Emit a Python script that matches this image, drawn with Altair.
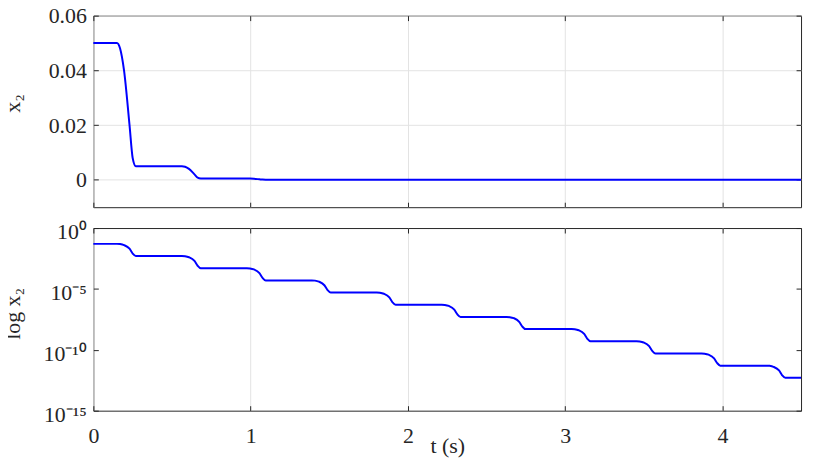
import altair as alt
import pandas as pd

# time (s) and x2 values
t_vals = [0.0, 0.15, 0.17, 0.195, 0.23, 0.25, 0.27,
          0.563, 0.583, 0.608, 0.643, 0.663, 0.683,
          0.976, 0.996, 1.021, 1.056, 1.076, 1.096,
          1.389, 1.409, 1.434, 1.469, 1.489, 1.509,
          1.802, 1.822, 1.847, 1.882, 1.902, 1.922,
          2.215, 2.235, 2.26, 2.295, 2.315, 2.335,
          2.628, 2.648, 2.673, 2.708, 2.728, 2.748,
          3.041, 3.061, 3.086, 3.121, 3.141, 3.161,
          3.454, 3.474, 3.499, 3.534, 3.554, 3.574,
          3.867, 3.887, 3.912, 3.947, 3.967, 3.987,
          4.28, 4.30, 4.325, 4.36, 4.38, 4.40,
          4.5]

x2_vals = [0.05, 0.05, 0.048, 0.04, 0.02, 0.008, 0.005,
           5e-3, 4.8e-3, 4e-3, 2e-3, 8e-4, 5e-4,
           5e-4, 4.8e-4, 4e-4, 2e-4, 8e-5, 5e-5,
           5e-5, 4.8e-5, 4e-5, 2e-5, 8e-6, 5e-6,
           5e-6, 4.8e-6, 4e-6, 2e-6, 8e-7, 5e-7,
           5e-7, 4.8e-7, 4e-7, 2e-7, 8e-8, 5e-8,
           5e-8, 4.8e-8, 4e-8, 2e-8, 8e-9, 5e-9,
           5e-9, 4.8e-9, 4e-9, 2e-9, 8e-10, 5e-10,
           5e-10, 4.8e-10, 4e-10, 2e-10, 8e-11, 5e-11,
           5e-11, 4.8e-11, 4e-11, 2e-11, 8e-12, 5e-12,
           5e-12, 4.8e-12, 4e-12, 2e-12, 8e-13, 5e-13,
           5e-13]

x_ticks = [0, 1, 2, 3, 4]
x_domain = [0, 4.5]
top_y_ticks = [0, 0.02, 0.04, 0.06]
top_y_domain = [-0.01, 0.06]
log_y_ticks = [1e-15, 1e-10, 1e-5, 1]
log_y_domain = [1e-15, 1]

df = pd.DataFrame({"t": t_vals, "x2": x2_vals})

FONT = "'Liberation Serif', 'Times New Roman', Times, 'Nimbus Roman', serif"
FS = 22
AX = "#262626"
GRID = "#e3e3e3"
BLUE = "#0000ff"
W = 713
H_TOP = 193
H_BOT = 184

common = dict(domain=False, tickSize=5, offset=-5, tickColor=AX, tickWidth=1,
              labelFlush=False, labelOverlap=False)

xs = alt.Scale(domain=x_domain, nice=False, zero=False)


def panel(yscale, yticks, ylabel_expr, ytitle, ygrid, show_x, height, title_y, label_offset):
    main = alt.Chart(df).mark_line(color=BLUE, strokeWidth=2, interpolate="monotone").encode(
        x=alt.X("t:Q", scale=xs,
                axis=alt.Axis(orient="bottom", values=x_ticks, labels=show_x,
                              title="t (s)" if show_x else None,
                              titleY=47, titleBaseline="alphabetic",
                              labelBaseline="alphabetic", labelPadding=32,
                              labelExpr="format(datum.value, 'd')",
                              grid=True, gridColor=GRID, gridWidth=1, **common)),
        y=alt.Y("x2:Q", scale=yscale,
                axis=alt.Axis(orient="left", values=yticks, labelExpr=ylabel_expr,
                              title=ytitle, titleAngle=270, titleX=-79, titleY=title_y,
                              titleBaseline="alphabetic", titleAlign="center",
                              labelPadding=7, labelOffset=label_offset,
                              grid=ygrid, gridColor=GRID, gridWidth=1, **common)),
    )
    ghost = alt.Chart(df).mark_line(strokeOpacity=0).encode(
        x=alt.X("t:Q", scale=xs,
                axis=alt.Axis(orient="top", values=x_ticks, labels=False, title=None,
                              grid=False, **common)),
        y=alt.Y("x2:Q", scale=yscale,
                axis=alt.Axis(orient="right", values=yticks, labels=False, title=None,
                              grid=False, **common)),
    )
    return alt.layer(main, ghost).resolve_axis(x="independent", y="independent").properties(
        width=W, height=height)


top = panel(alt.Scale(domain=top_y_domain, nice=False, zero=False), top_y_ticks,
            "datum.value == 0 ? '0' : format(datum.value, '.2f')", "x₂", True, False,
            H_TOP, 88, 0)

log_expr = ("round(log(datum.value)/LN10) == 0 ? '10⁰' : "
            "round(log(datum.value)/LN10) == -5 ? '10⁻⁵' : "
            "round(log(datum.value)/LN10) == -10 ? '10⁻¹⁰' : '10⁻¹⁵'")
bottom = panel(alt.Scale(type="log", domain=log_y_domain, nice=False), log_y_ticks,
               log_expr, "log x₂", False, True, H_BOT, 86, 4)

chart = alt.vconcat(top, bottom, spacing=21, bounds="flush").properties(
    padding={"left": -7, "top": -6, "right": 0, "bottom": 0}
).configure(font=FONT).configure_view(
    stroke=AX, strokeWidth=1
).configure_axis(
    labelFont=FONT, titleFont=FONT, labelFontSize=FS, titleFontSize=FS,
    labelColor=AX, titleColor=AX, titleFontWeight="normal"
)

chart.save("out.html", embed_options={"renderer": "svg", "actions": False})
